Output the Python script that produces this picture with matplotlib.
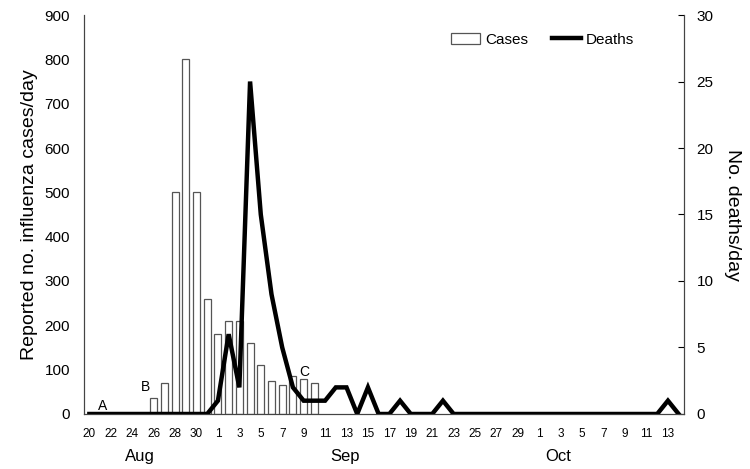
import numpy as np
import matplotlib
matplotlib.use("Agg")
import matplotlib.pyplot as plt
from matplotlib.transforms import blended_transform_factory

plt.rcParams["font.family"] = ["Liberation Sans", "DejaVu Sans"]

# Day index 0 = Aug 20, last = Oct 14
n_days = 56
day_labels = ([str(d) for d in range(20, 32)] + [str(d) for d in range(1, 31)]
              + [str(d) for d in range(1, 15)])

# Reported cases per day (Aug 26 - Sep 10)
case_start = 6
cases = [35, 70, 500, 800, 500, 260, 180, 210, 210, 160, 110, 75, 65, 85, 80, 70]

# Deaths per day (Aug 20 - Oct 14)
deaths = ([0] * 12
          + [1, 6, 2, 25, 15, 9, 5, 2, 1, 1, 1, 2, 2, 0, 2, 0, 0, 1, 0, 0, 0, 1]
          + [0] * 20 + [1, 0])

months = ["Aug", "Sep", "Oct"]
month_pos = [4.7, 23.9, 43.8]

fig = plt.figure(figsize=(7.5, 4.69), dpi=100)
ax = fig.add_axes([0.112, 0.1173, 0.8, 0.8507])
ax2 = ax.twinx()

x_cases = np.arange(case_start, case_start + len(cases))
bars = ax.bar(x_cases, cases, width=0.65, color="white", edgecolor="#555555",
              linewidth=0.9, label="Cases")
line, = ax2.plot(np.arange(n_days), deaths, color="black", lw=3.2,
                 solid_joinstyle="miter", label="Deaths")

ax.set_xlim(-0.5, n_days - 0.5)
ax.set_ylim(0, 900)
ax2.set_ylim(0, 30)
ax.set_yticks(range(0, 901, 100))
ax2.set_yticks(range(0, 31, 5))

ticks = np.arange(0, n_days, 2)
ax.set_xticks(ticks)
ax.set_xticklabels([day_labels[i] for i in ticks], fontsize=8.5)
ax.tick_params(axis="x", length=0, pad=10)
ax.tick_params(axis="y", length=0, labelsize=11, pad=10)
ax2.tick_params(axis="y", direction="in", length=4, labelsize=11, pad=9)

for a in (ax, ax2):
    a.spines["top"].set_visible(False)
    for s in ("left", "right", "bottom"):
        a.spines[s].set_color("#444444")
        a.spines[s].set_linewidth(0.8)

ax.set_ylabel("Reported no. influenza cases/day", fontsize=14, labelpad=5)
ax2.set_ylabel("No. deaths/day", fontsize=14, rotation=270, labelpad=20)

trans = blended_transform_factory(ax.transData, ax.transAxes)
for m, p in zip(months, month_pos):
    ax.text(p, -0.088, m, transform=trans, ha="center", va="top", fontsize=12)

ax.text(1.2, 18, "A", ha="center", va="center", fontsize=10)
ax.text(5.2, 61, "B", ha="center", va="center", fontsize=10)
ax.text(20.05, 95, "C", ha="center", va="center", fontsize=10)

ax2.set_zorder(ax.get_zorder() + 1)
ax.patch.set_visible(True)
ax2.patch.set_visible(False)

ax2.legend([bars, line], ["Cases", "Deaths"], ncol=2, frameon=False,
           loc="upper right", bbox_to_anchor=(0.94, 0.99), fontsize=11,
           handlelength=1.9, handletextpad=0.3, columnspacing=1.6)

fig.savefig("out.png", dpi=100)
